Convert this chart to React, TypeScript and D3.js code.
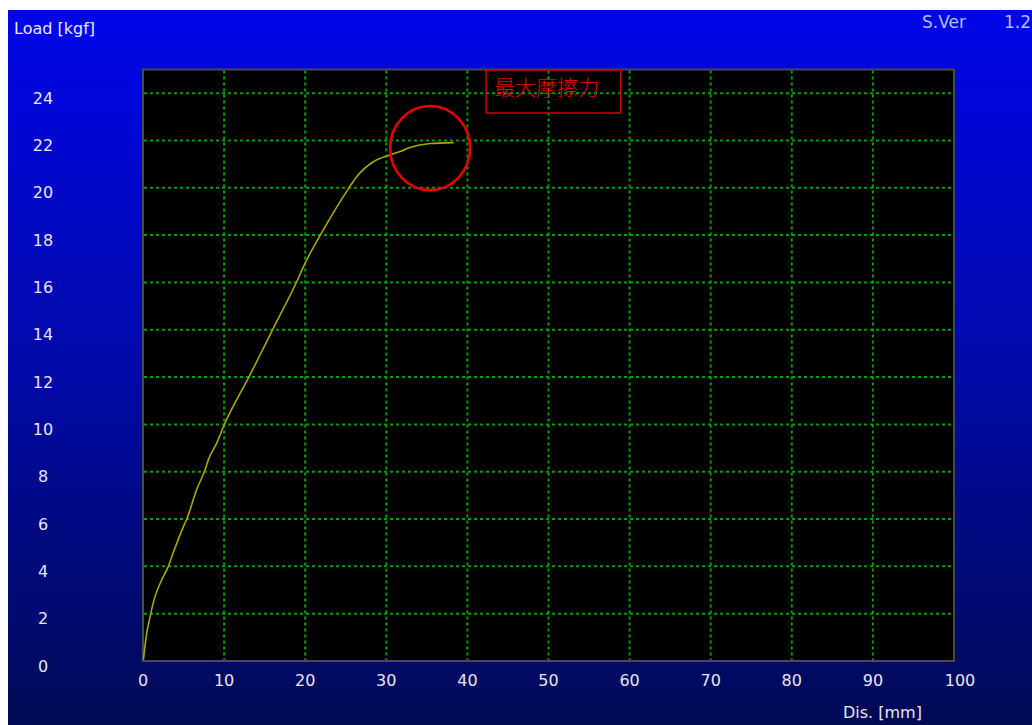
import * as d3 from 'd3';

// distance [mm] / load [kgf]
const DIS = [0.05, 0.46, 0.78, 1.48, 2.3, 3.1, 3.7, 4.97, 5.4, 6.6, 7.64, 8.05, 9.07, 10.1, 13.2, 16.07, 18.95, 19.97, 22.0, 25.5, 26.35, 28.4, 30.45, 31.7, 32.9, 35.4, 38.3];
const LOAD = [0.05, 1.18, 1.73, 2.72, 3.42, 3.98, 4.55, 5.67, 6.0, 7.23, 8.07, 8.5, 9.2, 10.05, 12.09, 14.06, 16.03, 16.8, 18.08, 20.05, 20.47, 21.1, 21.39, 21.53, 21.7, 21.87, 21.91];

const X_TICKS = [0, 10, 20, 30, 40, 50, 60, 70, 80, 90, 100];
const Y_TICKS = [0, 2, 4, 6, 8, 10, 12, 14, 16, 18, 20, 22, 24];

const PEAK_LABEL = '最大摩擦力';
const PEAK = { x: 35.4, y: 21.68 };
const LABEL_BOX = { x0: 42.3, x1: 58.9, y0: 23.16, y1: 24.98 };

const LEFT = 143;
const RIGHT = 954;
const TOP = 69.5;
const BOTTOM = 661;

const FONT = '"DejaVu Sans", Verdana, sans-serif';

export default function App() {
  const x = d3.scaleLinear().domain([0, 100]).range([LEFT, RIGHT]);
  const y = d3.scaleLinear().domain([0, 25]).range([BOTTOM, TOP]);

  const points = DIS.map((d, i) => [d, LOAD[i]] as [number, number]);
  const line = d3
    .line<[number, number]>()
    .x((d) => x(d[0]))
    .y((d) => y(d[1]))
    .curve(d3.curveMonotoneX);

  const rx = x(PEAK.x + 4.93) - x(PEAK.x);
  const ry = y(PEAK.y) - y(PEAK.y + 1.78);

  return (
    <svg
      width={1024}
      height={715}
      viewBox="8 10 1024 715"
      style={{ position: 'fixed', left: 8, top: 10, display: 'block' }}
    >
      <defs>
        <linearGradient id="bg" x1="0" y1="0" x2="0" y2="1">
          <stop offset="0%" stopColor="#0006e8" />
          <stop offset="50%" stopColor="#0209a8" />
          <stop offset="100%" stopColor="#000a55" />
        </linearGradient>
      </defs>
      <rect x={8} y={10} width={1024} height={715} fill="url(#bg)" />

      <rect
        x={LEFT}
        y={TOP}
        width={RIGHT - LEFT}
        height={BOTTOM - TOP}
        fill="#000"
        stroke="#4a4a4a"
        strokeWidth={2}
      />

      {/* grid */}
      <g stroke="#00a000" strokeWidth={2} strokeDasharray="3 3">
        {X_TICKS.slice(1, -1).map((t) => (
          <line key={`gx${t}`} x1={x(t)} x2={x(t)} y1={TOP + 1} y2={BOTTOM - 1} />
        ))}
        {Y_TICKS.slice(1).map((t) => (
          <line key={`gy${t}`} x1={LEFT + 1} x2={RIGHT - 1} y1={y(t)} y2={y(t)} />
        ))}
      </g>

      <path d={line(points) ?? ''} fill="none" stroke="#aaa800" strokeWidth={1.6} />

      {/* annotation */}
      <ellipse
        cx={x(PEAK.x)}
        cy={y(PEAK.y)}
        rx={rx}
        ry={ry}
        fill="none"
        stroke="#e80000"
        strokeWidth={2.6}
      />
      <rect
        x={x(LABEL_BOX.x0)}
        y={y(LABEL_BOX.y1)}
        width={x(LABEL_BOX.x1) - x(LABEL_BOX.x0)}
        height={y(LABEL_BOX.y0) - y(LABEL_BOX.y1)}
        fill="none"
        stroke="#d00000"
        strokeWidth={1.5}
      />
      <text
        x={x(LABEL_BOX.x0) + 8}
        y={y(LABEL_BOX.y1) + 25.5}
        fill="#e00000"
        fontSize={21}
        fontFamily='"Noto Sans CJK SC", sans-serif'
        fontWeight={300}
      >
        {PEAK_LABEL}
      </text>

      {/* axis labels */}
      <g fill="#e6e6f2" fontFamily={FONT} fontSize={16}>
        {Y_TICKS.map((t) => (
          <text key={`ly${t}`} x={43} y={y(t) + 10.5} textAnchor="middle">
            {t}
          </text>
        ))}
        {X_TICKS.map((t) => (
          <text key={`lx${t}`} x={x(t) + (t === 100 ? 6 : 0)} y={686} textAnchor="middle">
            {t}
          </text>
        ))}
        <text x={14} y={34}>Load [kgf]</text>
        <text x={843} y={718}>Dis. [mm]</text>
      </g>
      <g fill="#b4bcf0" fontFamily={FONT} fontSize={17}>
        <text x={922} y={28}>S.Ver</text>
        <text x={1004} y={28}>1.2</text>
      </g>
    </svg>
  );
}
